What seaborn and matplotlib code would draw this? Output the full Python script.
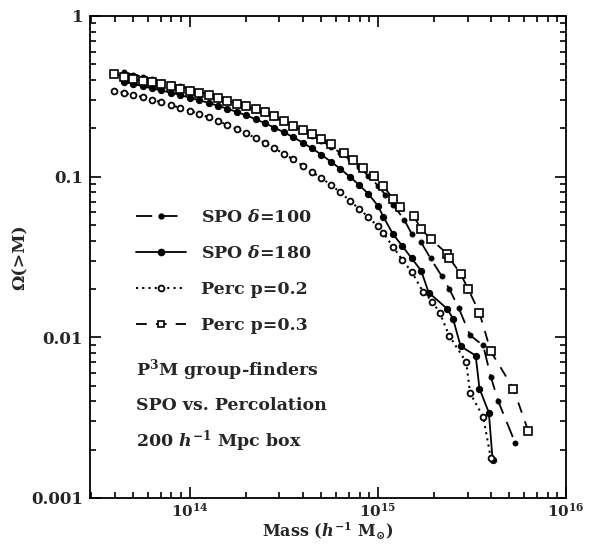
import numpy as np
import matplotlib
matplotlib.use("Agg")
import matplotlib.pyplot as plt
import seaborn as sns
from matplotlib.lines import Line2D
from matplotlib.legend_handler import HandlerLine2D
from matplotlib.ticker import FixedLocator, NullFormatter, LogLocator

# ---------------- data (log10 mass in h^-1 Msun, Omega(>M)) ----------------
logm_spo100 = [13.65, 13.70, 13.75, 13.80, 13.85, 13.90, 13.95, 14.00, 14.05, 14.10,
               14.15, 14.20, 14.25, 14.30, 14.35, 14.40, 14.45, 14.50, 14.55, 14.60,
               14.65, 14.70, 14.75, 14.80, 14.85, 14.90, 14.95, 15.00, 15.04, 15.08,
               15.14, 15.18, 15.23, 15.28, 15.34, 15.38, 15.43, 15.49, 15.56, 15.60,
               15.64, 15.73]
omega_spo100 = [0.445, 0.432, 0.418, 0.403, 0.390, 0.378, 0.365, 0.352, 0.337, 0.324,
                0.311, 0.298, 0.286, 0.274, 0.261, 0.248, 0.234, 0.221, 0.207, 0.193,
                0.179, 0.167, 0.154, 0.141, 0.128, 0.115, 0.101, 0.088, 0.077, 0.067,
                0.054, 0.044, 0.039, 0.031, 0.024, 0.020, 0.0152, 0.0103, 0.0089, 0.0057,
                0.0040, 0.0022]

logm_spo180 = [13.65, 13.70, 13.75, 13.80, 13.85, 13.90, 13.95, 14.00, 14.05, 14.10,
               14.15, 14.20, 14.25, 14.30, 14.35, 14.40, 14.45, 14.50, 14.55, 14.60,
               14.65, 14.70, 14.75, 14.80, 14.85, 14.90, 14.95, 15.00, 15.03, 15.08,
               15.13, 15.18, 15.23, 15.27, 15.37, 15.40, 15.44, 15.52, 15.54, 15.59,
               15.61]
omega_spo180 = [0.390, 0.378, 0.366, 0.354, 0.344, 0.333, 0.322, 0.310, 0.299, 0.288,
                0.276, 0.265, 0.253, 0.241, 0.228, 0.215, 0.202, 0.189, 0.176, 0.163,
                0.150, 0.137, 0.124, 0.112, 0.100, 0.089, 0.078, 0.066, 0.056, 0.044,
                0.037, 0.031, 0.026, 0.019, 0.015, 0.013, 0.0088, 0.0077, 0.0048, 0.0034,
                0.00172]

logm_perc02 = [13.60, 13.65, 13.70, 13.75, 13.80, 13.85, 13.90, 13.95, 14.00, 14.05,
               14.10, 14.15, 14.20, 14.25, 14.30, 14.35, 14.40, 14.45, 14.50, 14.55,
               14.60, 14.65, 14.70, 14.75, 14.80, 14.85, 14.90, 14.95, 15.00, 15.03,
               15.08, 15.13, 15.18, 15.24, 15.29, 15.33, 15.38, 15.47, 15.49, 15.56,
               15.60]
omega_perc02 = [0.341, 0.332, 0.323, 0.312, 0.301, 0.290, 0.279, 0.268, 0.257, 0.246,
                0.234, 0.222, 0.210, 0.198, 0.186, 0.174, 0.162, 0.150, 0.139, 0.128,
                0.117, 0.107, 0.098, 0.089, 0.080, 0.071, 0.063, 0.056, 0.049, 0.0444,
                0.0367, 0.0303, 0.0256, 0.0192, 0.0167, 0.0141, 0.0102, 0.0070, 0.0045, 0.0032,
                0.00178]

logm_perc03 = [13.60, 13.65, 13.70, 13.75, 13.80, 13.85, 13.90, 13.95, 14.00, 14.05,
               14.10, 14.15, 14.20, 14.25, 14.30, 14.35, 14.40, 14.45, 14.50, 14.55,
               14.60, 14.65, 14.70, 14.75, 14.82, 14.87, 14.92, 14.98, 15.03, 15.08,
               15.12, 15.19, 15.23, 15.28, 15.37, 15.38, 15.44, 15.48, 15.54, 15.60,
               15.72, 15.80]
omega_perc03 = [0.435, 0.420, 0.405, 0.395, 0.388, 0.380, 0.365, 0.352, 0.342, 0.331,
                0.320, 0.309, 0.297, 0.285, 0.274, 0.263, 0.251, 0.237, 0.223, 0.208,
                0.196, 0.184, 0.172, 0.160, 0.140, 0.127, 0.113, 0.101, 0.0875, 0.0727,
                0.0648, 0.0569, 0.0473, 0.0410, 0.0330, 0.0312, 0.0248, 0.0200, 0.0142, 0.0082,
                0.0048, 0.0026]

labels = ["SPO $\\mathit{\\delta}$=100", "SPO $\\mathit{\\delta}$=180", "Perc p=0.2", "Perc p=0.3"]
notes = ["P$^\\mathbf{3}$M group-finders", "SPO vs. Percolation", "200 $\\mathit{h}^\\mathbf{-1}$ Mpc box"]
x_ticks = [1e14, 1e15, 1e16]
x_ticklabels = ["$\\mathbf{10^{14}}$", "$\\mathbf{10^{15}}$", "$\\mathbf{10^{16}}$"]
y_ticks = [0.001, 0.01, 0.1, 1]
y_ticklabels = ["0.001", "0.01", "0.1", "1"]

# ---------------- style ----------------
sns.set_theme(style="ticks")
plt.rcParams["font.family"] = ["DejaVu Serif"]
plt.rcParams["font.weight"] = "bold"
plt.rcParams["mathtext.fontset"] = "dejavuserif"
plt.rcParams["mathtext.default"] = "bf"
plt.rcParams["axes.linewidth"] = 1.3

fig = plt.figure(figsize=(5.90, 5.44), dpi=100)
ax = fig.add_axes([0.1525, 0.0846, 0.8068, 0.886])

series = [
    (logm_spo100, omega_spo100, dict(marker="o", markersize=3.5, markerfacecolor="black",
                                     markeredgecolor="black", linestyle=(0, (9, 5)), linewidth=1.3)),
    (logm_spo180, omega_spo180, dict(marker="o", markersize=4.5, markerfacecolor="black",
                                     markeredgecolor="black", linestyle="-", linewidth=1.3)),
    (logm_perc02, omega_perc02, dict(marker="o", markersize=4.2, markerfacecolor="white",
                                     markeredgecolor="black", markeredgewidth=1.3,
                                     linestyle=(0, (1, 2)), linewidth=1.5)),
    (logm_perc03, omega_perc03, dict(marker="s", markersize=5.8, markerfacecolor="white",
                                     markeredgecolor="black", markeredgewidth=1.2,
                                     linestyle=(0, (6, 5)), linewidth=1.3)),
]

handles = []
for (lm, om, kw), lab in zip(series, labels):
    m = 10 ** np.asarray(lm)
    sns.lineplot(x=m, y=np.asarray(om), ax=ax, color="black", estimator=None,
                 sort=False, label=lab, **kw)
    hk = dict(kw)
    if hk["marker"] == "s":
        hk["markersize"] = 4.5
    handles.append(Line2D([], [], color="black", **hk))

ax.set_xscale("log")
ax.set_yscale("log")
ax.set_xlim(2.95e13, 1e16)
ax.set_ylim(0.001, 1)

ax.xaxis.set_major_locator(FixedLocator(x_ticks))
ax.set_xticklabels(x_ticklabels)
ax.yaxis.set_major_locator(FixedLocator(y_ticks))
ax.set_yticklabels(y_ticklabels)
ax.xaxis.set_minor_locator(LogLocator(base=10, subs=np.arange(2, 10)))
ax.yaxis.set_minor_locator(LogLocator(base=10, subs=np.arange(2, 10)))
ax.xaxis.set_minor_formatter(NullFormatter())
ax.yaxis.set_minor_formatter(NullFormatter())
ax.tick_params(which="both", direction="in", top=True, right=True, width=1.2, color="black")
ax.tick_params(which="major", length=8, labelsize=12)
ax.tick_params(axis="x", which="major", labelsize=11, pad=2.5)
ax.tick_params(axis="y", which="major", pad=5)
ax.tick_params(which="minor", length=4)
for s in ax.spines.values():
    s.set_color("black")

ax.set_xlabel("Mass ($\\mathit{h}^\\mathbf{-1}$ M$_{\\odot}$)", fontsize=11.5, fontweight="bold")
ax.xaxis.set_label_coords(0.5, -0.047)
ax.set_ylabel("\u03a9(>M)", fontsize=12.5, fontweight="bold")
ax.yaxis.set_label_coords(-0.128, 0.5)


class MarkerLeftHandler(HandlerLine2D):
    def get_xdata(self, legend, xdescent, ydescent, width, height, fontsize):
        xdata = np.array([-xdescent, -xdescent + width])
        xmark = np.array([-xdescent])
        return xdata, xmark


leg = ax.legend(handles=handles, labels=labels, loc="upper left",
                bbox_to_anchor=(0.063, 0.632), frameon=False, fontsize=12.5,
                handlelength=2.9, handletextpad=0.85, labelspacing=1.1,
                handler_map={Line2D: MarkerLeftHandler(numpoints=1)})

for i, t in enumerate(notes):
    ax.text(0.097, 0.265 - i * 0.073, t, transform=ax.transAxes, fontsize=12.5,
            fontweight="bold", va="center", ha="left")

fig.savefig("out.png", dpi=100)
